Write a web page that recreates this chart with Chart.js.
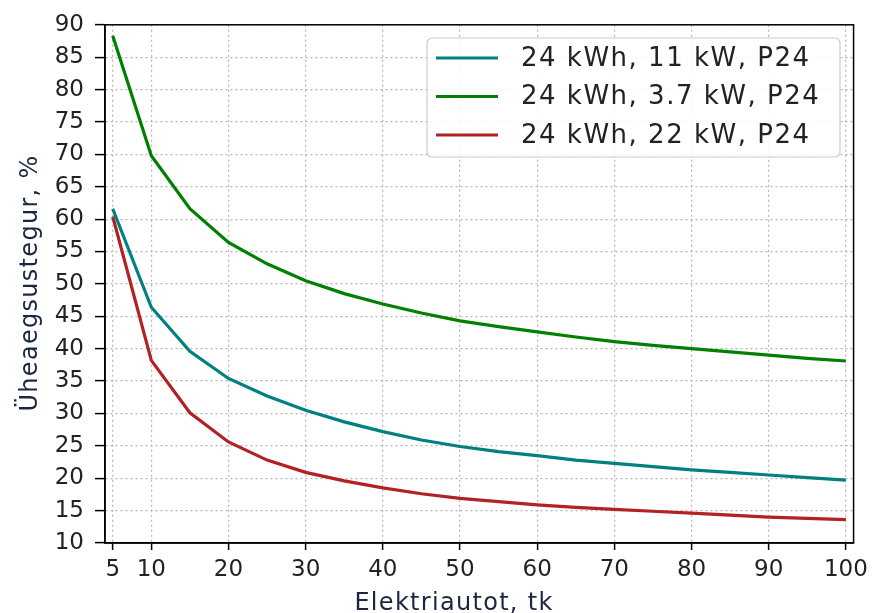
<!DOCTYPE html>
<html>
<head>
<meta charset="utf-8">
<script src="https://cdn.jsdelivr.net/npm/chart.js"></script>
<style>
  html, body { margin: 0; padding: 0; background: #fff; }
  #wrap { width: 874px; height: 613px; }
</style>
</head>
<body>
<div id="wrap"><canvas id="chart" width="874" height="613"></canvas></div>
<script>
// values
const cars = [5, 10, 15, 20, 25, 30, 35, 40, 45, 50, 55, 60, 65, 70, 75, 80, 85, 90, 95, 100];
const kw11 = [61.6, 46.4, 39.6, 35.4, 32.7, 30.5, 28.7, 27.2, 25.9, 24.9, 24.1, 23.5, 22.8, 22.3, 21.8, 21.3, 20.9, 20.5, 20.1, 19.7];
const kw37 = [88.3, 69.8, 61.6, 56.4, 53.1, 50.5, 48.5, 46.9, 45.5, 44.3, 43.4, 42.6, 41.8, 41.1, 40.5, 40.0, 39.5, 39.0, 38.5, 38.1];
const kw22 = [60.4, 38.2, 30.1, 25.6, 22.8, 20.9, 19.6, 18.5, 17.6, 16.9, 16.4, 15.9, 15.5, 15.2, 14.9, 14.6, 14.3, 14.0, 13.8, 13.6];
const seriesNames = ["24 kWh, 11 kW, P24", "24 kWh, 3.7 kW, P24", "24 kWh, 22 kW, P24"];
const xTicks = [5, 10, 20, 30, 40, 50, 60, 70, 80, 90, 100];
const yTicks = [10, 15, 20, 25, 30, 35, 40, 45, 50, 55, 60, 65, 70, 75, 80, 85, 90];
const xTitle = "Elektriautot, tk";
const yTitle = "Üheaegsustegur, %";

const FONT = "'DejaVu Sans', sans-serif";
const colors = ["#008080", "#008000", "#b22222"];
const titleColor = "#1b2640";

const pts = (ys) => cars.map((x, i) => ({ x: x, y: ys[i] }));

// frame, legend box and axis titles
const extras = {
  id: "extras",
  afterDraw(chart) {
    const { ctx, chartArea: a } = chart;
    ctx.save();
    ctx.strokeStyle = "#000";
    ctx.lineWidth = 1.5;
    ctx.strokeRect(a.left, a.top, a.right - a.left, a.bottom - a.top);

    // legend
    const bx = 427, by = 38, bw = 413, bh = 119;
    ctx.beginPath();
    ctx.roundRect(bx, by, bw, bh, 5);
    ctx.fillStyle = "rgba(255,255,255,0.85)";
    ctx.fill();
    ctx.strokeStyle = "#cccccc";
    ctx.lineWidth = 1.2;
    ctx.stroke();
    ctx.font = "26px " + FONT;
    ctx.letterSpacing = "1.5px";
    ctx.textBaseline = "middle";
    chart.data.datasets.forEach((ds, i) => {
      const y = 58 + i * 38.5;
      ctx.beginPath();
      ctx.moveTo(436, y);
      ctx.lineTo(498, y);
      ctx.strokeStyle = ds.borderColor;
      ctx.lineWidth = 3.2;
      ctx.stroke();
      ctx.fillStyle = "#222";
      ctx.fillText(ds.label, 521, y + 1);
    });

    // axis titles
    ctx.font = "24px " + FONT;
    ctx.letterSpacing = "1.3px";
    ctx.fillStyle = titleColor;
    ctx.textAlign = "center";
    ctx.textBaseline = "alphabetic";
    ctx.fillText(xTitle, 454, 610);
    ctx.translate(37, 283);
    ctx.rotate(-Math.PI / 2);
    ctx.fillText(yTitle, 0, 0);
    ctx.restore();
  }
};

new Chart(document.getElementById("chart"), {
  type: "line",
  data: {
    datasets: [
      { label: seriesNames[0], data: pts(kw11), borderColor: colors[0] },
      { label: seriesNames[1], data: pts(kw37), borderColor: colors[1] },
      { label: seriesNames[2], data: pts(kw22), borderColor: colors[2] }
    ]
  },
  options: {
    responsive: false,
    animation: false,
    layout: { padding: { left: 6, right: 19, top: 24, bottom: 0 } },
    elements: {
      line: { borderWidth: 3.2, tension: 0, fill: false },
      point: { radius: 0 }
    },
    plugins: { legend: { display: false }, tooltip: { enabled: false } },
    scales: {
      x: {
        type: "linear",
        min: 4,
        max: 101,
        afterBuildTicks: (s) => { s.ticks = xTicks.map(v => ({ value: v })); },
        afterFit: (s) => { s.height = 70; },
        ticks: { color: "#222", font: { family: FONT, size: 23 }, padding: 6, maxRotation: 0, autoSkip: false },
        grid: { color: "#b5b5b5", borderDash: [2, 3], lineWidth: 1.2, tickLength: 7, tickColor: "#000", tickBorderDash: [], tickWidth: 1.5 },
        border: { color: "#000", width: 1.5, dash: [2, 3] }
      },
      y: {
        min: 10,
        max: 90,
        afterBuildTicks: (s) => { s.ticks = yTicks.map(v => ({ value: v })); },
        afterFit: (s) => { s.width = 99; },
        ticks: { color: "#222", font: { family: FONT, size: 23 }, padding: 11, autoSkip: false },
        grid: { color: "#b5b5b5", borderDash: [2, 3], lineWidth: 1.2, tickLength: 10, tickColor: "#000", tickBorderDash: [], tickWidth: 1.5 },
        border: { color: "#000", width: 1.5, dash: [2, 3] }
      }
    }
  },
  plugins: [extras]
});
</script>
</body>
</html>
